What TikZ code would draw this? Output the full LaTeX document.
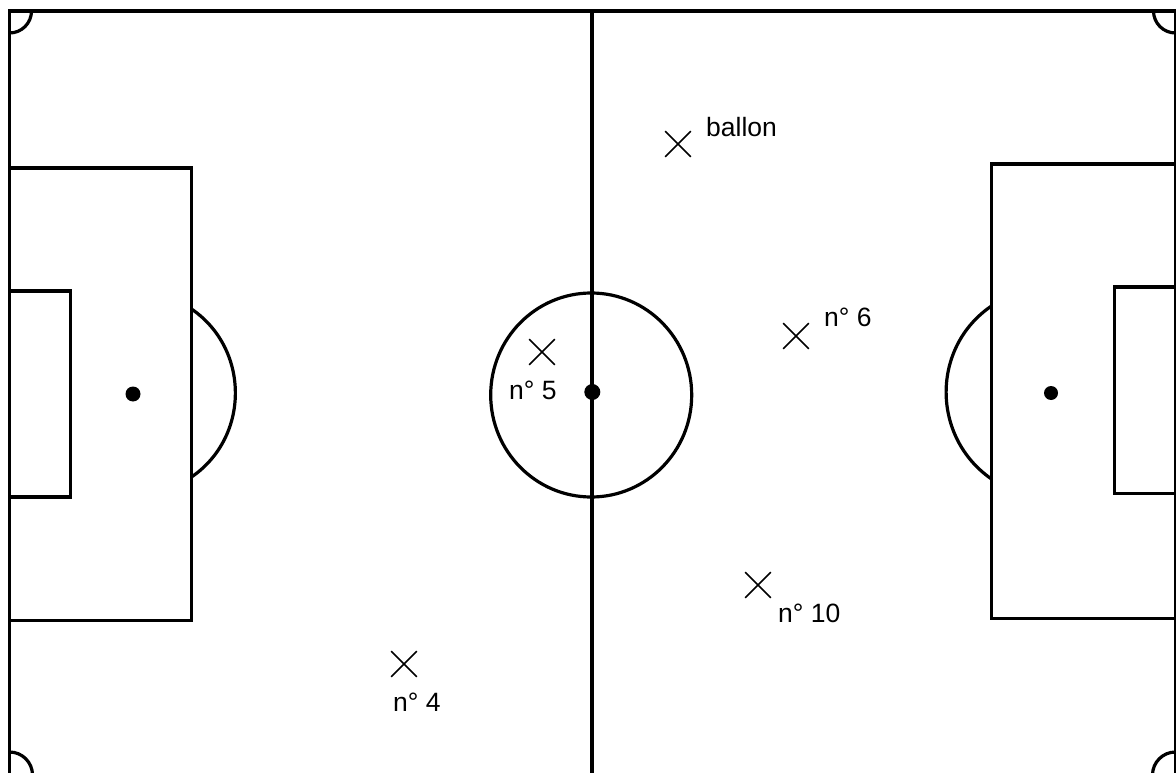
\documentclass[tikz,border=0pt]{standalone}
\usepackage{fontspec}
\setmainfont{Liberation Sans}
\usepackage{tikz}
\usetikzlibrary{positioning,shapes.misc}

\tikzset{
  terrain/.style={line width=3.8pt,black},
  courbe/.style={line width=3.2pt,black},
  joueur/.style={cross out,draw=black,line width=1.7pt,inner sep=0pt,minimum size=24pt},
  legende/.style={inner sep=0pt,font=\fontsize{26.5}{30}\selectfont},
  point/.style={circle,fill=black,inner sep=0pt}
}

\begin{document}
\begin{tikzpicture}[x=1pt,y=-1pt]
\useasboundingbox (0,0) rectangle (1176,773);
\clip (0,0) rectangle (1176,773);
% bords et ligne mediane
\draw[terrain] (9.5,780) -- (9.5,11) -- (1175.5,11) -- (1175.5,780);
\draw[terrain] (592.3,11) -- (592.3,780);
% corners
\draw[courbe] (9.5,33) arc[start angle=90,end angle=0,radius=22];
\draw[courbe] (1175.5,33) arc[start angle=90,end angle=180,radius=22];
\draw[courbe] (9.5,752) arc[start angle=-90,end angle=0,radius=23];
\draw[courbe] (1175.5,752) arc[start angle=-90,end angle=-180,radius=23];
% surface gauche
\draw[terrain] (9.5,168) -- (191.5,168) -- (191.5,620.5) -- (9.5,620.5);
\draw[terrain] (9.5,291) -- (70.5,291) -- (70.5,497) -- (9.5,497);
\draw[courbe] (191.5,309) .. controls (250,349) and (250,437) .. (191.5,477);
\node[point,minimum size=15pt] (penaltyg) at (133,394) {};
% surface droite
\draw[terrain] (1175.5,164) -- (991.5,164) -- (991.5,618.5) -- (1175.5,618.5);
\draw[terrain] (1175.5,287) -- (1114.5,287) -- (1114.5,493.5) -- (1175.5,493.5);
\draw[courbe] (991.5,306) .. controls (931,347) and (931,437) .. (991.5,479);
\node[point,minimum size=14pt] (penaltyd) at (1051,393) {};
% rond central
\draw[courbe] (591.2,395) ellipse[x radius=100.5,y radius=102];
\node[point,minimum size=16pt] (centre) at (592.3,392) {};
% joueurs
\node[joueur] (ballon) at (678,144) {};
\node[legende,anchor=base west] (lballon) at (706,136.5) {ballon};
\node[joueur] (six) at (796,336) {};
\node[legende,anchor=base west] (lsix) at (824,326) {n° 6};
\node[joueur] (cinq) at (542,352) {};
\node[legende,anchor=base west] (lcinq) at (509,399) {n° 5};
\node[joueur] (dix) at (758,585) {};
\node[legende,anchor=base west] (ldix) at (778,622) {n° 10};
\node[joueur] (quatre) at (404,664) {};
\node[legende,anchor=base west] (lquatre) at (393,711) {n° 4};
\end{tikzpicture}
\end{document}
